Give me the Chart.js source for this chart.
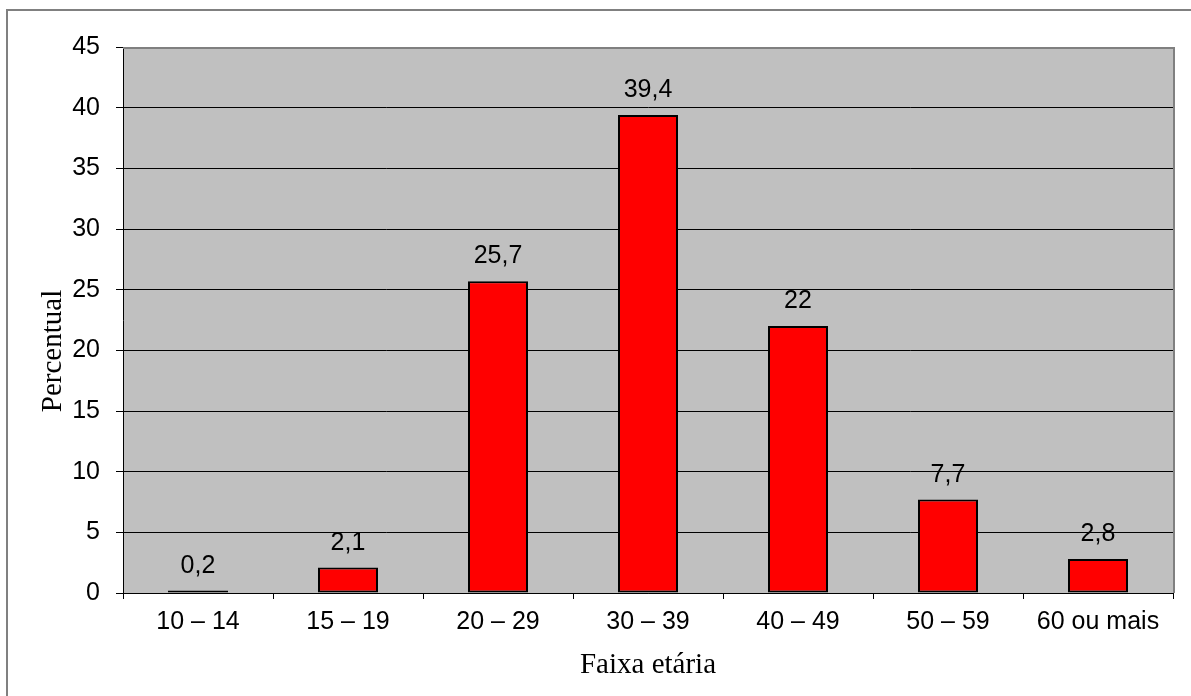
<!DOCTYPE html>
<html>
<head>
<meta charset="utf-8">
<script src="https://cdn.jsdelivr.net/npm/chart.js@4/dist/chart.umd.min.js"></script>
<style>
  html, body { margin: 0; padding: 0; background: #ffffff; }
  #c { display: block; }
</style>
</head>
<body>
<canvas id="c" width="1191" height="696"></canvas>
<script>
const categories = ['10 – 14', '15 – 19', '20 – 29', '30 – 39', '40 – 49', '50 – 59', '60 ou mais'];
const percentValues = [0.2, 2.1, 25.7, 39.4, 22, 7.7, 2.8];
const yTickValues = [0, 5, 10, 15, 20, 25, 30, 35, 40, 45];
const xTitle = 'Faixa etária';
const yTitle = 'Percentual';

const SANS = '"Liberation Sans", Arial, sans-serif';
const SERIF = '"Liberation Serif", "Times New Roman", serif';

const decoPlugin = {
  id: 'deco',
  beforeDraw(chart) {
    const { ctx, chartArea: a } = chart;
    ctx.save();
    ctx.fillStyle = '#ffffff';
    ctx.fillRect(0, 0, chart.width, chart.height);
    // outer chart border
    ctx.strokeStyle = '#808080';
    ctx.lineWidth = 2;
    ctx.strokeRect(7, 10, chart.width + 20, chart.height + 20);
    // plot background
    ctx.fillStyle = '#c0c0c0';
    ctx.fillRect(a.left, a.top, a.right - a.left, a.bottom - a.top);
    ctx.restore();
  },
  afterDatasetsDraw(chart) {
    const { ctx } = chart;
    const meta = chart.getDatasetMeta(0);
    ctx.save();
    ctx.fillStyle = '#000000';
    ctx.font = '25px ' + SANS;
    ctx.textAlign = 'center';
    ctx.textBaseline = 'alphabetic';
    meta.data.forEach((bar, i) => {
      const txt = String(percentValues[i]).replace('.', ',');
      ctx.fillText(txt, bar.x, bar.y - 18);
    });
    ctx.restore();
  },
  afterDraw(chart) {
    const { ctx, chartArea: a } = chart;
    ctx.save();
    // plot area border (top & right, gray)
    ctx.strokeStyle = '#808080';
    ctx.lineWidth = 2;
    ctx.beginPath();
    ctx.moveTo(a.left, a.top + 1);
    ctx.lineTo(a.right + 1, a.top + 1);
    ctx.lineTo(a.right + 1, a.bottom);
    ctx.stroke();
    // y axis title
    ctx.fillStyle = '#000000';
    ctx.font = '29px ' + SERIF;
    ctx.textAlign = 'center';
    ctx.textBaseline = 'alphabetic';
    ctx.translate(61, 351);
    ctx.rotate(-Math.PI / 2);
    ctx.fillText(yTitle, 0, 0);
    ctx.restore();
  }
};

new Chart(document.getElementById('c'), {
  type: 'bar',
  data: {
    labels: categories,
    datasets: [{
      label: yTitle,
      data: percentValues,
      backgroundColor: '#ff0000',
      borderColor: '#000000',
      borderWidth: 2,
      borderSkipped: false,
      categoryPercentage: 1.0,
      barPercentage: 0.4
    }]
  },
  options: {
    responsive: false,
    animation: false,
    devicePixelRatio: 1,
    layout: { padding: { left: 0, top: 47, right: 18, bottom: 0 } },
    plugins: {
      legend: { display: false },
      tooltip: { enabled: false },
      title: { display: false }
    },
    scales: {
      x: {
        offset: true,
        grid: {
          offset: true,
          drawOnChartArea: false,
          drawTicks: true,
          tickLength: 6,
          color: '#000000',
          lineWidth: 1
        },
        border: { display: true, color: '#000000', width: 1 },
        ticks: {
          color: '#000000',
          font: { family: SANS, size: 25 },
          padding: 8,
          maxRotation: 0,
          autoSkip: false
        },
        title: {
          display: true,
          text: xTitle,
          color: '#000000',
          font: { family: SERIF, size: 29, lineHeight: 1.2 },
          padding: { top: 0, bottom: 13 }
        },
        afterFit(scale) { scale.height = 103; }
      },
      y: {
        min: 0,
        max: 45,
        afterBuildTicks(scale) { scale.ticks = yTickValues.map(v => ({ value: v })); },
        grid: {
          drawOnChartArea: true,
          drawTicks: true,
          tickLength: 7,
          color: '#000000',
          lineWidth: 1
        },
        border: { display: true, color: '#000000', width: 1 },
        ticks: {
          color: '#000000',
          font: { family: SANS, size: 25 },
          padding: 16
        },
        title: { display: false },
        afterFit(scale) { scale.width = 123; }
      }
    }
  },
  plugins: [decoPlugin]
});
</script>
</body>
</html>
